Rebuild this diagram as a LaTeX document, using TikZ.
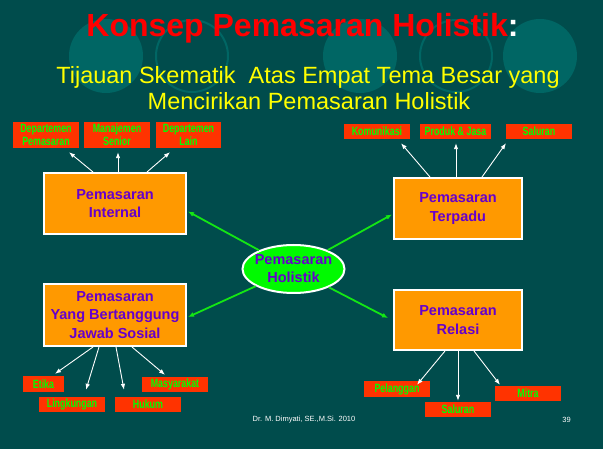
\documentclass[tikz,border=0pt]{standalone}
\usepackage{fontspec}
\setmainfont{Liberation Sans}
\newfontfamily\condfont[FakeStretch=0.74]{Liberation Sans}
\usetikzlibrary{calc,arrows.meta,shapes.geometric}
\definecolor{bg}{RGB}{0,76,76}
\definecolor{circ}{RGB}{0,102,100}
\definecolor{boxorange}{RGB}{255,153,0}
\definecolor{purp}{RGB}{102,0,204}
\definecolor{redbox}{RGB}{255,51,0}
\definecolor{grn}{RGB}{0,255,0}
\definecolor{ellgreen}{RGB}{0,250,0}
\definecolor{arrgreen}{RGB}{20,230,20}
\definecolor{ttlred}{RGB}{255,0,0}
\definecolor{ttlyellow}{RGB}{255,255,0}
\tikzset{
  bigbox/.style={draw=white, line width=2pt, fill=boxorange, text=purp, align=center, inner sep=0pt,
    font=\bfseries\fontsize{14.5}{18.5}\selectfont},
  sbox/.style={fill=redbox, text=grn, align=center, inner sep=0pt,
    font=\condfont\bfseries\fontsize{12}{13}\selectfont},
  warr/.style={draw=white, line width=0.9pt, -{Latex[length=6pt,width=4.5pt]}},
  garr/.style={draw=arrgreen, line width=1.8pt, -{Latex[length=6pt,width=5pt]}},
}
\begin{document}
\begin{tikzpicture}[x=1pt,y=-1pt]
\useasboundingbox (0,0) rectangle (603,449);
\fill[bg] (0,0) rectangle (603,449);
% decorative circles
\fill[circ] (106,56) circle (37);
\draw[circ, line width=2pt] (192,56) circle (36);
\fill[circ] (360,56) circle (37);
\draw[circ, line width=2pt] (456,56) circle (36);
\fill[circ] (540,56) circle (37);
% title
\node[anchor=base, inner sep=0pt, font=\bfseries\fontsize{32}{36}\selectfont] (title) at (302.5,37)
  {\textcolor{ttlred}{Konsep Pemasaran Holistik}\textcolor{white}{:}};
\node[anchor=base, inner sep=0pt, text=ttlyellow, font=\fontsize{23.5}{27}\selectfont] (sub1) at (308,84)
  {Tijauan Skematik\ \ Atas Empat Tema Besar yang};
\node[anchor=base, inner sep=0pt, text=ttlyellow, font=\fontsize{23.5}{27}\selectfont] (sub2) at (309,110)
  {Mencirikan Pemasaran Holistik};
% main boxes
\node[bigbox, minimum width=142, minimum height=61] (int) at (115,203.5) {Pemasaran\\Internal};
\node[bigbox, minimum width=142, minimum height=62] (soc) at (115,315) {Pemasaran\\Yang Bertanggung\\Jawab Sosial};
\node[bigbox, minimum width=128, minimum height=61] (ter) at (458,208.5) {Pemasaran\\Terpadu};
\node[bigbox, minimum width=128, minimum height=60] (rel) at (458,320) {Pemasaran\\Relasi};
\node[ellipse, draw=white, line width=2pt, fill=ellgreen, text=purp, align=center,
  inner xsep=-14pt, inner ysep=-8pt,
  minimum width=102, minimum height=48, font=\bfseries\fontsize{14.5}{18}\selectfont] (ell) at (293.5,269)
  {Pemasaran\\Holistik};
% small boxes
\node[sbox, minimum width=66, minimum height=26] (dp) at (46,135) {Departemen\\Pemasaran};
\node[sbox, minimum width=66, minimum height=26] (ms) at (117,135) {Manajemen\\Senior};
\node[sbox, minimum width=65, minimum height=26] (dl) at (188.5,135) {Departemen\\Lain};
\node[sbox, minimum width=66, minimum height=15] (kom) at (377,131.5) {Komunikasi};
\node[sbox, minimum width=71, minimum height=15] (pj) at (455.5,131.5) {Produk \& Jasa};
\node[sbox, minimum width=66, minimum height=15] (sal1) at (539,131.5) {Saluran};
\node[sbox, minimum width=41, minimum height=16] (et) at (43.5,384) {Etika};
\node[sbox, minimum width=66, minimum height=15] (li) at (72,404.5) {Lingkungan};
\node[sbox, minimum width=66, minimum height=15] (hu) at (148,404.5) {Hukum};
\node[sbox, minimum width=66, minimum height=15] (my) at (175,384.5) {Masyarakat};
\node[sbox, minimum width=66, minimum height=16] (pl) at (397,389) {Pelanggan};
\node[sbox, minimum width=66, minimum height=15] (sal2) at (458,409.5) {Saluran};
\node[sbox, minimum width=66, minimum height=15] (mi) at (528,393.5) {Mitra};
% white arrows
\draw[warr] ($(int.north)+(-22,0)$) -- ($(dp.south)+(23,4)$);
\draw[warr] ($(int.north)+(3,0)$) -- ($(ms.south)+(1,4)$);
\draw[warr] ($(int.north)+(32,0)$) -- ($(dl.south)+(-18.5,4)$);
\draw[warr] ($(ter.north)+(-28,0)$) -- ($(kom.south)+(24,4)$);
\draw[warr] ($(ter.north)+(-2,0)$) -- ($(pj.south)+(0.5,4)$);
\draw[warr] ($(ter.north)+(24,0)$) -- ($(sal1.south)+(-33,4)$);
\draw[warr] ($(soc.south)+(-22,0)$) -- ($(et.north)+(11.5,-2)$);
\draw[warr] ($(soc.south)+(-16,0)$) -- ($(li.north)+(14,-7)$);
\draw[warr] ($(soc.south)+(1,0)$) -- ($(hu.north)+(-24,-7)$);
\draw[warr] ($(soc.south)+(17,0)$) -- ($(my.north)+(-10,-2)$);
\draw[warr] ($(rel.south)+(-13,0)$) -- ($(pl.north)+(20,4)$);
\draw[warr] (rel.south) -- ($(sal2.north)+(0,-1)$);
\draw[warr] ($(rel.south)+(16,0)$) -- ($(mi.north)+(-28,-1)$);
% green arrows
\draw[garr] (ell) -- ($(int.east)+(1,8)$);
\draw[garr] (ell) -- ($(ter.west)+(-1,6)$);
\draw[garr] (ell) -- ($(soc.east)+(1,2)$);
\draw[garr] (ell) -- ($(rel.west)+(-5,-2)$);
% footer
\node[text=white, inner sep=0pt, font=\fontsize{7.5}{9}\selectfont] (foot) at (304,420) {Dr. M. Dimyati, SE.,M.Si. 2010};
\node[text=white, inner sep=0pt, font=\fontsize{7.5}{9}\selectfont] (page) at (566.5,420) {39};
\end{tikzpicture}
\end{document}
